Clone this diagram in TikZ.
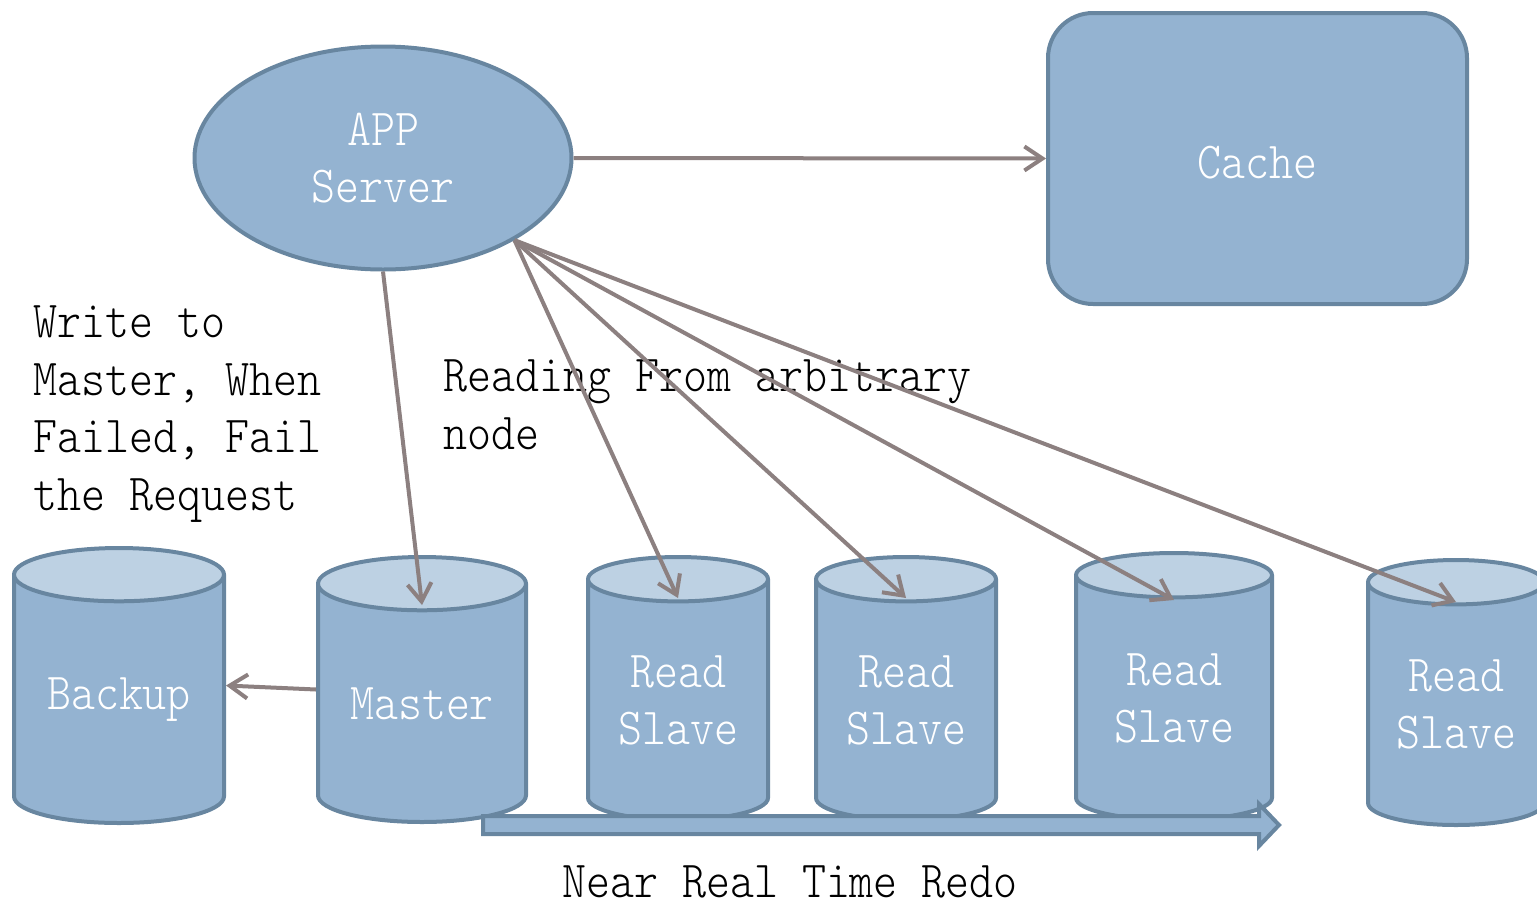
\documentclass[tikz,border=0pt]{standalone}
\usepackage{fontspec}
\setmainfont{lmmonolt10-regular.otf}[FakeStretch = 0.879]
\usepackage{tikz}
\usetikzlibrary{positioning}
\usetikzlibrary{shapes.geometric}
\usetikzlibrary{arrows.meta}
\definecolor{boxblue}{RGB}{148,179,209}
\definecolor{topblue}{RGB}{189,209,227}
\definecolor{edgeblue}{RGB}{104,134,160}
\definecolor{linegray}{RGB}{140,128,128}

\begin{document}
\begin{tikzpicture}[
x = 1pt, y = -1pt,
every node/.style = {font = \fontsize{52}{57.5}\selectfont, inner sep = 0pt},
  blob/.style = {draw = edgeblue, line width = 4pt, text = white},
  db/.style = {blob, cylinder, shape border rotate = 90, aspect = 0.37, anchor = north,
    cylinder uses custom fill, cylinder body fill = boxblue, cylinder end fill = topblue},
  link/.style = {draw = linegray, line width = 4pt, -{Straight Barb[length = 18pt, width = 24pt]}}
]
\useasboundingbox (0,0) rectangle (1537,906);
\node[blob, ellipse, fill = boxblue, minimum width = 377pt, minimum height = 223pt, align = center] (app) at (383,158) {APP\\Server};
\node[blob, fill = boxblue, rounded corners = 45pt, minimum width = 419pt, minimum height = 291pt, text height = 40pt] (cache) at (1257.5,158.5) {Cache};
\node[db, minimum width = 210pt, minimum height = 275pt] (backup) at (119,546) {Backup};
\node[db, minimum width = 208pt, minimum height = 265pt] (master) at (422,555) {Master};
\node[db, minimum width = 180pt, minimum height = 263pt, align = center] (slaveA) at (678,555) {Read\\Slave};
\node[db, minimum width = 180pt, minimum height = 263pt, align = center] (slaveB) at (906,555) {Read\\Slave};
\node[db, minimum width = 196pt, minimum height = 267pt, align = center] (slaveC) at (1174,551) {Read\\Slave};
\node[db, minimum width = 176pt, minimum height = 265pt, align = center] (slaveD) at (1456,558) {Read\\Slave};
% redo arrow under the slaves
\draw[blob, fill = boxblue] (483,816) -- (1259,816) -- (1259,804) -- (1279,825) -- (1259,846) -- (1259,834) -- (483,834) -- cycle;
\node[anchor = base] (redo) at (790,897) {Near Real Time Redo};
\node[anchor = base west, align = left] (write) at (33,510) {Write to\\Master, When\\Failed, Fail\\the Request};
\node[anchor = base west, align = left] (read) at (443,449) {Reading From arbitrary\\node};
\draw[link] (app.east) -- (cache.west);
\draw[link] (app.south) -- ([yshift = -50pt]master.north);
\foreach \s/\d in {slaveA/43, slaveB/43, slaveC/49, slaveD/44}
  \draw[link] (app.-32) -- ([yshift = -\d pt]\s.north);
\draw[link] (master.shape center -| master.west) -- (backup.shape center -| backup.east);
\end{tikzpicture}
\end{document}
